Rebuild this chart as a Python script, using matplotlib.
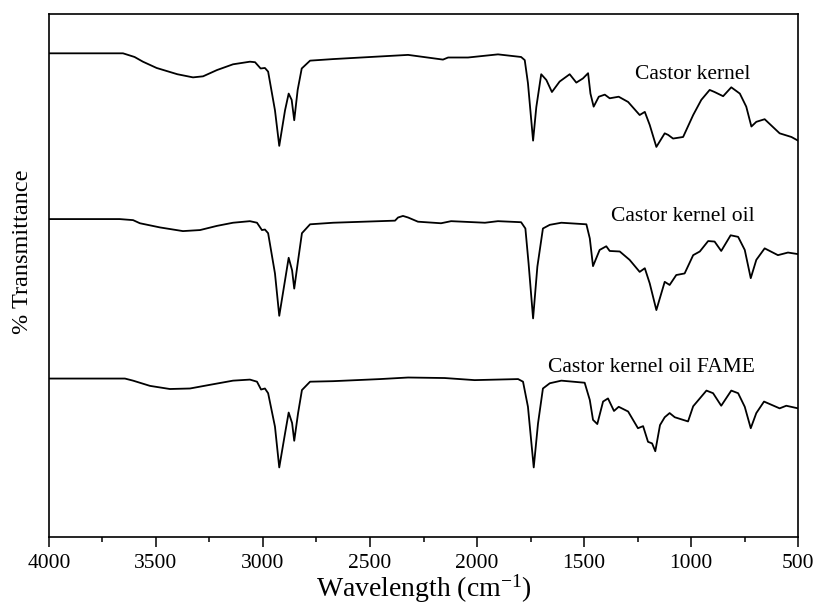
import matplotlib
matplotlib.use('Agg')
import matplotlib.pyplot as plt
from matplotlib.ticker import MultipleLocator

plt.rcParams['font.family'] = ['Liberation Serif', 'DejaVu Serif']
plt.rcParams['mathtext.fontset'] = 'custom'
plt.rcParams['mathtext.rm'] = 'Liberation Serif'
plt.rcParams['mathtext.it'] = 'Liberation Serif:italic'

# Spectra (wavenumber, cm-1 / relative transmittance, offset traces)
kernel_wn = [4000, 3654, 3600, 3561, 3497, 3400, 3327, 3280, 3215, 3140, 3061, 3037,
             3011, 2991, 2976, 2944, 2924, 2897, 2880, 2866, 2854, 2838, 2819, 2780,
             2672, 2322, 2159, 2135, 2042, 1902, 1794, 1777, 1762, 1738, 1723, 1700,
             1676, 1650, 1614, 1567, 1536, 1505, 1481, 1470, 1455, 1431, 1403, 1380,
             1338, 1294, 1240, 1216, 1193, 1162, 1123, 1107, 1084, 1037, 990, 952,
             913, 890, 850, 812, 772, 742, 718, 695, 656, 586, 531, 500]
kernel_t = [92.5, 92.5, 91.8, 90.9, 89.7, 88.5, 87.9, 88.1, 89.3, 90.4, 90.9, 90.8,
            89.6, 89.7, 89.0, 81.6, 74.8, 81.6, 84.8, 83.6, 79.7, 85.5, 89.6, 91.1,
            91.4, 92.2, 91.3, 91.7, 91.7, 92.3, 91.8, 91.2, 86.8, 75.8, 82.2, 88.5,
            87.4, 85.1, 87.1, 88.5, 86.9, 87.7, 88.7, 84.8, 82.3, 84.2, 84.6, 83.9,
            84.2, 83.2, 80.7, 81.3, 78.8, 74.6, 77.2, 76.9, 76.2, 76.5, 80.7, 83.6,
            85.5, 85.1, 84.3, 86.0, 84.8, 82.3, 78.5, 79.4, 79.9, 77.2, 76.5, 75.8]

oil_wn = [4000, 3670, 3607, 3575, 3481, 3374, 3294, 3215, 3140, 3061, 3028, 3005,
          2991, 2976, 2944, 2924, 2897, 2880, 2864, 2854, 2836, 2818, 2780, 2672,
          2383, 2369, 2346, 2322, 2276, 2168, 2121, 1963, 1902, 1794, 1774, 1759,
          1738, 1718, 1692, 1660, 1606, 1489, 1473, 1458, 1427, 1396, 1380, 1333,
          1287, 1240, 1216, 1193, 1162, 1123, 1100, 1069, 1030, 990, 959, 920,
          890, 859, 815, 780, 749, 721, 695, 656, 594, 547, 500]
oil_t = [60.8, 60.8, 60.6, 60.0, 59.2, 58.5, 58.7, 59.5, 60.1, 60.4, 60.1, 58.7,
         58.8, 58.1, 50.4, 42.3, 49.1, 53.4, 51.0, 47.5, 52.9, 58.1, 59.8, 60.1,
         60.5, 61.1, 61.4, 61.1, 60.3, 60.0, 60.4, 60.1, 60.4, 60.2, 59.0, 52.3,
         41.8, 51.7, 59.0, 59.7, 60.1, 59.8, 57.1, 51.8, 54.9, 55.6, 54.7, 54.6,
         53.0, 50.7, 51.4, 48.5, 43.4, 48.8, 48.2, 50.1, 50.4, 53.9, 54.6, 56.6,
         56.5, 54.7, 57.7, 57.4, 54.9, 49.5, 53.0, 55.2, 53.9, 54.4, 54.1]

fame_wn = [4000, 3645, 3607, 3528, 3435, 3341, 3248, 3140, 3061, 3028, 3009, 2991,
           2976, 2944, 2924, 2897, 2880, 2864, 2854, 2836, 2818, 2780, 2672, 2453,
           2322, 2151, 2011, 1808, 1785, 1762, 1735, 1715, 1692, 1660, 1606, 1497,
           1473, 1458, 1438, 1411, 1388, 1360, 1338, 1294, 1248, 1224, 1201, 1182,
           1167, 1145, 1123, 1100, 1076, 1014, 990, 928, 897, 859, 812, 780,
           749, 721, 695, 659, 586, 555, 500]
fame_t = [30.3, 30.3, 29.9, 28.9, 28.3, 28.4, 29.1, 29.9, 30.1, 29.7, 28.2, 28.4,
          27.5, 21.1, 13.3, 19.8, 23.8, 21.8, 18.4, 23.7, 28.1, 29.7, 29.8, 30.2,
          30.5, 30.4, 30.0, 30.2, 29.7, 24.9, 13.3, 21.7, 28.4, 29.4, 29.9, 29.5,
          26.2, 22.4, 21.6, 25.9, 26.5, 24.1, 24.9, 24.0, 20.8, 21.2, 18.2, 17.9,
          16.4, 21.4, 22.9, 23.7, 22.9, 22.1, 25.0, 28.0, 27.5, 25.1, 28.0, 27.5,
          24.9, 20.8, 23.7, 25.9, 24.6, 25.1, 24.6]

names = ['Castor kernel', 'Castor kernel oil', 'Castor kernel oil FAME']
label_wn = [724, 701, 701]
label_t = [88.5, 61.2, 32.5]

fig = plt.figure(figsize=(8.16, 6.08), dpi=100)
ax = fig.add_axes([0.060, 0.1168, 0.918, 0.860])

for wn, t in [(kernel_wn, kernel_t), (oil_wn, oil_t), (fame_wn, fame_t)]:
    ax.plot(wn, t, color='black', lw=1.3)

for name, x, t in zip(names, label_wn, label_t):
    ax.text(x, t, name, ha='right', va='center', fontsize=15.5)

ax.set_xlim(4000, 500)
ax.set_ylim(0, 100)
ax.xaxis.set_major_locator(MultipleLocator(500))
ax.xaxis.set_minor_locator(MultipleLocator(250))
ax.tick_params(axis='x', which='major', direction='out', length=7, width=1.1,
               labelsize=15.5, pad=5)
ax.tick_params(axis='x', which='minor', direction='out', length=3.5, width=1.1)
ax.set_yticks([])
for sp in ax.spines.values():
    sp.set_linewidth(1.2)

ax.set_xlabel('Wavelength (cm$^{-1}$)', fontsize=20, labelpad=0)
ax.set_ylabel('% Transmittance', fontsize=17.5)
ax.yaxis.set_label_coords(-0.021, 0.545)

fig.savefig('out.png', dpi=100)
